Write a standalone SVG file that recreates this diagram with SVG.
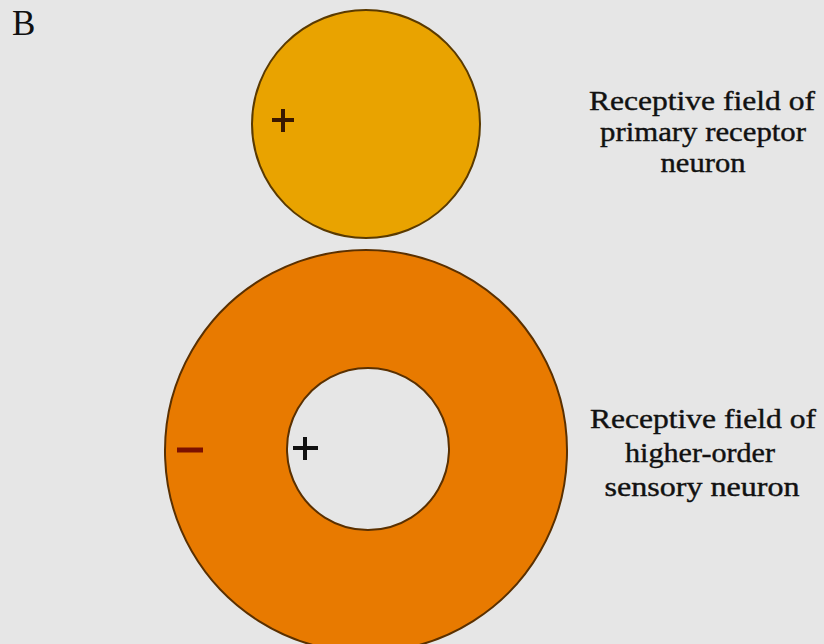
<svg xmlns="http://www.w3.org/2000/svg" width="824" height="644" viewBox="0 0 824 644">
<style>
.lbl{font-family:"Liberation Serif","Times New Roman",serif;font-size:28px;fill:#111;stroke:#111;stroke-width:0.4;text-anchor:middle;}
.sign{stroke-linecap:butt;fill:none;}
</style>
<rect width="824" height="644" fill="#e6e6e6"/>
<text x="12" y="35" font-family="Liberation Serif, serif" font-size="35" fill="#111">B</text>
<g id="primary">
<circle cx="366" cy="124" r="114" fill="#e9a300" stroke="#5a3a00" stroke-width="2"/>
<path class="sign" d="M272 120H294M283 109V132" stroke="#3a1800" stroke-width="4"/>
</g>
<g id="higher">
<path d="M366 250a201 201 0 1 0 0.01 0ZM368 368a81 81 0 1 1 -0.01 0Z" fill="#e87a00" fill-rule="evenodd" stroke="#5a3000" stroke-width="2"/>
<path class="sign" d="M177 450H203" stroke="#7a1000" stroke-width="5"/>
<path class="sign" d="M293 448H318M305 437V460" stroke="#111" stroke-width="4"/>
</g>
<g id="label1">
<text class="lbl" x="702" y="110" textLength="226" lengthAdjust="spacingAndGlyphs">Receptive field of</text>
<text class="lbl" x="703" y="141" textLength="206" lengthAdjust="spacingAndGlyphs">primary receptor</text>
<text class="lbl" x="703" y="172" textLength="85" lengthAdjust="spacingAndGlyphs">neuron</text>
</g>
<g id="label2">
<text class="lbl" x="703" y="428" textLength="226" lengthAdjust="spacingAndGlyphs">Receptive field of</text>
<text class="lbl" x="700" y="462" textLength="150" lengthAdjust="spacingAndGlyphs">higher-order</text>
<text class="lbl" x="702" y="496" textLength="195" lengthAdjust="spacingAndGlyphs">sensory neuron</text>
</g>
<g id="connectors"/>
</svg>
